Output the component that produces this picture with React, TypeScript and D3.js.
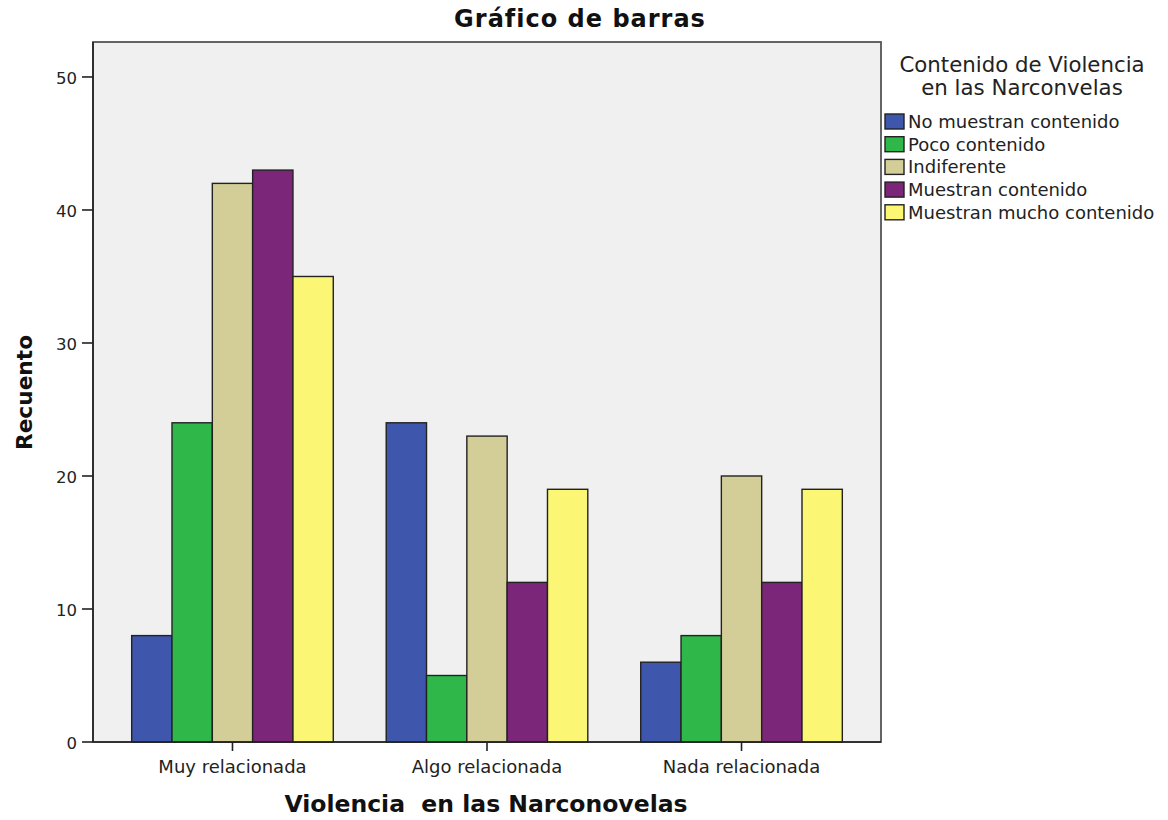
import React from "react";
import * as d3 from "d3";

const categories = ["Muy relacionada", "Algo relacionada", "Nada relacionada"];
const seriesNames = [
  "No muestran contenido",
  "Poco contenido",
  "Indiferente",
  "Muestran contenido",
  "Muestran mucho contenido",
];
const seriesColors = ["#3e57ac", "#2fb849", "#d3ce97", "#7b2679", "#fbf774"];
const noMuestran = [8, 24, 6];
const pocoContenido = [24, 5, 8];
const indiferente = [42, 23, 20];
const muestranContenido = [43, 12, 12];
const muestranMucho = [35, 19, 19];
const seriesValues = [noMuestran, pocoContenido, indiferente, muestranContenido, muestranMucho];
const yTicks = [0, 10, 20, 30, 40, 50];

const W = 1168;
const H = 820;
const plot = { left: 93, right: 881, top: 42, bottom: 742 };

export default function App() {
  const y = d3.scaleLinear().domain([0, 52.63]).range([plot.bottom, plot.top]);
  const x = d3.scalePoint<string>().domain(categories).range([plot.left, plot.right]).padding(0.548);
  const groupW = 201.6;
  const inner = d3
    .scaleBand<number>()
    .domain(d3.range(seriesNames.length))
    .range([-groupW / 2, groupW / 2])
    .padding(0);
  const font = "'DejaVu Sans', sans-serif";
  return (
    <svg width={W} height={H} style={{ position: "absolute", left: 0, top: 0, background: "#fff" }}>
      <rect x={0} y={0} width={W} height={H} fill="#fff" />
      <text x={580} y={27} textAnchor="middle" fontFamily={font} fontWeight="bold" fontSize={24} letterSpacing={1} fill="#111">
        Gráfico de barras
      </text>
      <rect x={plot.left} y={plot.top} width={plot.right - plot.left} height={plot.bottom - plot.top} fill="#f0f0f0" stroke="#555" strokeWidth={1.8} />
      {categories.map((c, ci) =>
        seriesValues.map((vals, si) => (
          <rect
            key={c + si}
            x={(x(c) as number) + (inner(si) as number)}
            y={y(vals[ci])}
            width={inner.bandwidth()}
            height={plot.bottom - y(vals[ci])}
            fill={seriesColors[si]}
            stroke="#222"
            strokeWidth={1.4}
          />
        ))
      )}
      <line x1={plot.left} x2={plot.left} y1={plot.top} y2={plot.bottom} stroke="#222" strokeWidth={1.6} />
      <line x1={plot.left} x2={plot.right} y1={plot.bottom} y2={plot.bottom} stroke="#222" strokeWidth={1.6} />
      {yTicks.map((t) => (
        <g key={t}>
          <line x1={plot.left - 11} x2={plot.left} y1={y(t)} y2={y(t)} stroke="#222" strokeWidth={1.6} />
          <text x={77} y={y(t) + 7} textAnchor="end" fontFamily={font} fontSize={16.5} fill="#222">
            {t}
          </text>
        </g>
      ))}
      {categories.map((c) => (
        <g key={c}>
          <line x1={x(c)} x2={x(c)} y1={plot.bottom} y2={plot.bottom + 9} stroke="#222" strokeWidth={1.6} />
          <text x={x(c)} y={773} textAnchor="middle" fontFamily={font} fontSize={18} fill="#222">
            {c}
          </text>
        </g>
      ))}
      <text
        x={486}
        y={812}
        textAnchor="middle"
        fontFamily={font}
        fontWeight="bold"
        fontSize={23.5}
        fill="#111"
        style={{ whiteSpace: "pre" }}
      >
        {"Violencia  en las Narconovelas"}
      </text>
      <text
        transform={`translate(32,392.5) rotate(-90)`}
        textAnchor="middle"
        fontFamily={font}
        fontWeight="bold"
        fontSize={21.7}
        fill="#111"
      >
        Recuento
      </text>
      <text x={1022} y={72} textAnchor="middle" fontFamily={font} fontSize={21.3} fill="#222">
        Contenido de Violencia
      </text>
      <text x={1022} y={95} textAnchor="middle" fontFamily={font} fontSize={21.3} fill="#222">
        en las Narconvelas
      </text>
      {seriesNames.map((s, i) => (
        <g key={s}>
          <rect x={885} y={114 + i * 22.7} width={19} height={15} fill={seriesColors[i]} stroke="#222" strokeWidth={1.4} />
          <text x={908} y={128 + i * 22.7} fontFamily={font} fontSize={18} fill="#222">
            {s}
          </text>
        </g>
      ))}
    </svg>
  );
}
